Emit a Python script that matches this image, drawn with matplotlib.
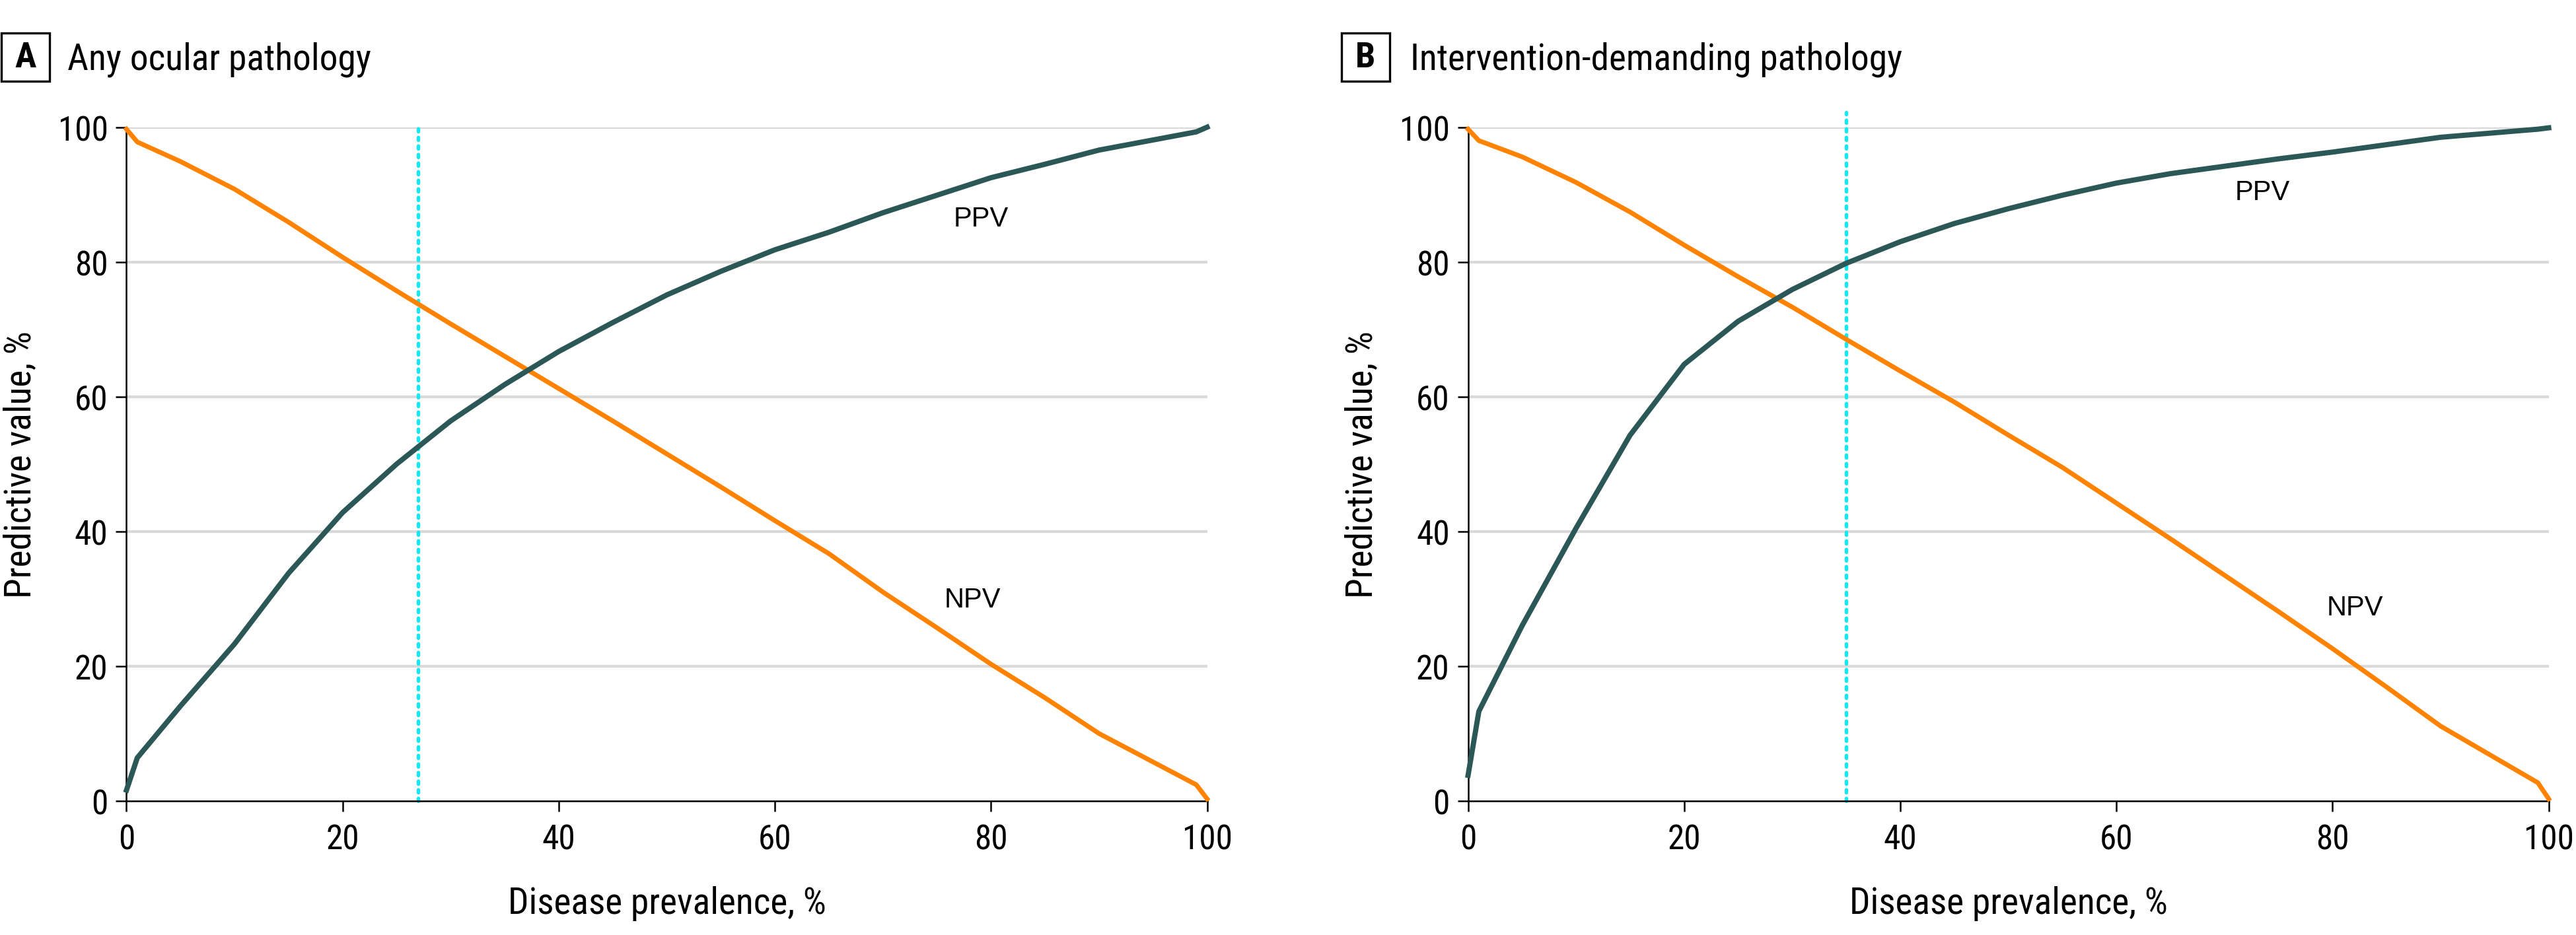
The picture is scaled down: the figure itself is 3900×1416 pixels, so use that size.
import matplotlib
matplotlib.use("Agg")
import matplotlib.pyplot as plt
from matplotlib import font_manager
from matplotlib.patches import Rectangle

# prevalence points (%)
prevalence = [0, 1, 5, 10, 15, 20, 25, 30, 35, 40, 45, 50, 55, 60, 65, 70, 75, 80, 85, 90, 99, 100]

# A: any ocular pathology
ppv_a = [1.6, 6.4, 14.1, 23.3, 33.8, 42.8, 50.0, 56.4, 61.8, 66.7, 71.0, 75.1, 78.6, 81.8,
         84.4, 87.3, 89.9, 92.5, 94.5, 96.6, 99.3, 100.0]
npv_a = [99.7, 97.8, 94.9, 90.8, 85.9, 80.7, 75.7, 70.8, 66.0, 61.2, 56.4, 51.5, 46.6, 41.6,
         36.7, 31.0, 25.7, 20.3, 15.3, 10.0, 2.4, 0.3]
cutoff_a = 27

# B: intervention-demanding pathology
ppv_b = [3.8, 13.3, 26.0, 40.5, 54.3, 64.8, 71.2, 75.9, 79.8, 83.0, 85.7, 87.9, 89.9, 91.7,
         93.1, 94.2, 95.3, 96.3, 97.4, 98.5, 99.7, 99.9]
npv_b = [99.7, 98.0, 95.6, 91.8, 87.4, 82.5, 77.8, 73.3, 68.5, 63.8, 59.2, 54.3, 49.5, 44.2,
         38.9, 33.5, 28.1, 22.6, 16.9, 11.1, 2.7, 0.3]
cutoff_b = 35

panel_letters = ["A", "B"]
panel_titles = ["Any ocular pathology", "Intervention-demanding pathology"]
ticks = [0, 20, 40, 60, 80, 100]

# pick a narrow face if one is around, else Roboto
names = {f.name for f in font_manager.fontManager.ttflist}
main_font = "Roboto"
for cand in ["Liberation Sans Narrow", "Roboto Condensed", "Open Sans Condensed",
             "Noto Sans Condensed", "Arial Narrow", "DejaVu Sans Condensed"]:
    if cand in names:
        main_font = cand
        break
plt.rcParams["font.family"] = [main_font, "DejaVu Sans"]

TEAL = "#2b5857"
ORANGE = "#ff8200"
CYAN = "#14e8f2"
GRID = "#d9d9d9"

W, H = 3900, 1417
fig = plt.figure(figsize=(13, 4.7233), dpi=300)

panels = [
    dict(left=0.0491, ppv=ppv_a, npv=npv_a, cut=cutoff_a, cut_top=100,
         ppv_lab=(79.1, 86.4), npv_lab=(78.3, 29.9), box_px=2, title_px=102),
    dict(left=0.5699, ppv=ppv_b, npv=npv_b, cut=cutoff_b, cut_top=102.2,
         ppv_lab=(73.5, 90.4), npv_lab=(82.1, 28.7), box_px=2031, title_px=2135),
]

for i, p in enumerate(panels):
    ax = fig.add_axes([p["left"], 0.1433, 0.4195, 0.7201])
    ax.set_xlim(0, 100)
    ax.set_ylim(0, 100)
    for y in ticks[1:]:
        ax.axhline(y, color=GRID, lw=1.0, zorder=0)
    ax.plot([p["cut"], p["cut"]], [0, p["cut_top"]], color=CYAN, lw=1.3,
            linestyle=(0, (0.8, 1.6)), dash_capstyle="round", clip_on=False, zorder=1)
    ax.plot(prevalence, p["npv"], color=ORANGE, lw=1.7, clip_on=False, zorder=3)
    ax.plot(prevalence, p["ppv"], color=TEAL, lw=1.9, clip_on=False, zorder=3)
    ax.text(*p["ppv_lab"], "PPV", fontsize=10, family="Liberation Sans",
            ha="center", va="center")
    ax.text(*p["npv_lab"], "NPV", fontsize=10, family="Liberation Sans",
            ha="center", va="center")

    for s in ["top", "right"]:
        ax.spines[s].set_visible(False)
    for s in ["left", "bottom"]:
        ax.spines[s].set_linewidth(0.6)
    ax.set_xticks(ticks)
    ax.set_yticks(ticks)
    ax.tick_params(axis="x", length=3.9, width=0.6, labelsize=12.3, pad=4.2)
    ax.tick_params(axis="y", length=3.9, width=0.6, labelsize=12.3, pad=2.8)
    ax.set_xlabel("Disease prevalence, %", fontsize=13.3)
    ax.set_ylabel("Predictive value, %", fontsize=13.3)
    ax.xaxis.label.set_verticalalignment("center")
    ax.yaxis.label.set_verticalalignment("center")
    ax.xaxis.set_label_coords(0.5, -0.151)
    ax.yaxis.set_label_coords(-0.0985, 0.5)

    # boxed panel letter + title
    fig.add_artist(Rectangle((p["box_px"] / W, 1 - 124 / H), 73 / W, 73 / H,
                             transform=fig.transFigure, fc="white", ec="black", lw=0.8))
    fig.text((p["box_px"] + 36.5) / W, 1 - 88 / H, panel_letters[i], fontsize=13,
             fontweight="bold", ha="center", va="center")
    fig.text(p["title_px"] / W, 1 - 90 / H, panel_titles[i], fontsize=13.3,
             ha="left", va="center")

fig.savefig("out.png", dpi=300)
